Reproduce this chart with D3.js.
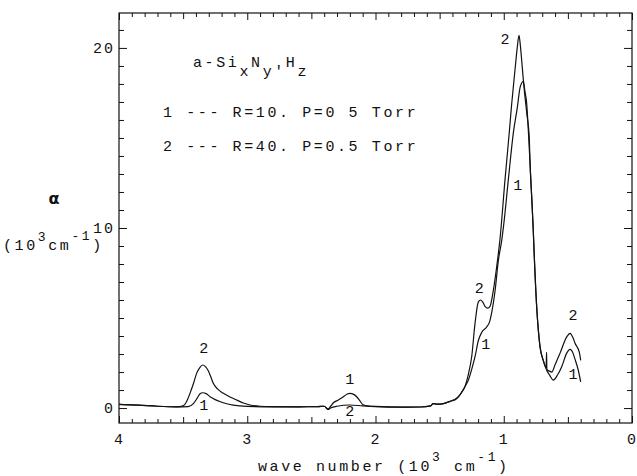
<!DOCTYPE html>
<html>
<head>
<meta charset="utf-8">
<script src="https://cdn.jsdelivr.net/npm/d3@7"></script>
<style>
  html, body { margin: 0; padding: 0; background: #fff; }
  svg { display: block; }
  .mono { font-family: "Liberation Mono", "DejaVu Sans Mono", monospace; font-size: 15px; letter-spacing: 2.6px; fill: #111; }
</style>
</head>
<body>
<svg id="chart" width="637" height="476"></svg>
<script>
// Absorption spectra of a-SixNyHz films (wave number in 10^3 cm^-1, alpha in 10^3 cm^-1)
const wn1 = [4.0, 3.85, 3.7, 3.55, 3.46, 3.42, 3.39, 3.37, 3.347, 3.32, 3.29, 3.25, 3.21, 3.16, 3.11, 3.0, 2.8, 2.6, 2.45, 2.40, 2.37, 2.35, 2.33, 2.29, 2.25, 2.22, 2.20, 2.17, 2.147, 2.12, 2.097, 2.05, 2.0, 1.8, 1.65, 1.57, 1.55, 1.52, 1.47, 1.42, 1.37, 1.34, 1.31, 1.276, 1.25, 1.224, 1.198, 1.172, 1.133, 1.11, 1.094, 1.068, 1.042, 1.016, 1.0, 0.964, 0.925, 0.894, 0.873, 0.86, 0.847, 0.835, 0.821, 0.809, 0.795, 0.782, 0.77, 0.764, 0.743, 0.73, 0.717, 0.692, 0.665, 0.64, 0.614, 0.58, 0.548, 0.509, 0.483, 0.46, 0.444, 0.419, 0.40];
const alpha1 = [0.20, 0.16, 0.10, 0.07, 0.08, 0.25, 0.55, 0.78, 0.85, 0.80, 0.63, 0.47, 0.35, 0.24, 0.16, 0.09, 0.07, 0.07, 0.08, 0.10, -0.05, 0.10, 0.28, 0.45, 0.63, 0.78, 0.82, 0.76, 0.63, 0.38, 0.18, 0.11, 0.09, 0.05, 0.06, 0.12, 0.25, 0.22, 0.25, 0.36, 0.50, 0.75, 1.1, 1.55, 2.15, 2.85, 3.75, 4.2, 4.5, 4.8, 5.3, 6.5, 8.2, 9.3, 10.2, 12.7, 15.3, 16.7, 17.8, 18.05, 18.15, 17.6, 16.9, 15.5, 13.6, 11.7, 9.9, 8.8, 5.6, 4.3, 3.4, 2.65, 2.1, 1.8, 1.55, 1.85, 2.3, 3.05, 3.26, 3.05, 2.7, 2.1, 1.45];

const wn2 = [4.0, 3.85, 3.7, 3.55, 3.50, 3.47, 3.446, 3.42, 3.394, 3.37, 3.347, 3.326, 3.306, 3.285, 3.267, 3.23, 3.189, 3.13, 3.08, 3.03, 2.98, 2.9, 2.8, 2.6, 2.45, 2.40, 2.37, 2.35, 2.30, 2.2, 2.1, 2.0, 1.8, 1.65, 1.57, 1.55, 1.52, 1.47, 1.42, 1.367, 1.33, 1.302, 1.275, 1.25, 1.224, 1.198, 1.18, 1.165, 1.146, 1.125, 1.107, 1.081, 1.055, 1.029, 0.99, 0.957, 0.938, 0.912, 0.895, 0.881, 0.87, 0.86, 0.847, 0.821, 0.801, 0.795, 0.782, 0.77, 0.764, 0.743, 0.73, 0.717, 0.692, 0.67, 0.666, 0.664, 0.645, 0.626, 0.60, 0.561, 0.509, 0.483, 0.46, 0.444, 0.411, 0.40];
const alpha2 = [0.20, 0.16, 0.10, 0.07, 0.12, 0.40, 0.83, 1.35, 1.94, 2.25, 2.39, 2.30, 2.10, 1.75, 1.40, 1.05, 0.83, 0.60, 0.44, 0.28, 0.17, 0.10, 0.08, 0.07, 0.08, 0.10, -0.08, 0.0, 0.10, 0.17, 0.12, 0.08, 0.05, 0.06, 0.12, 0.25, 0.22, 0.25, 0.38, 0.55, 0.85, 1.2, 1.9, 2.85, 4.7, 5.9, 6.0, 5.9, 5.65, 5.55, 5.65, 6.55, 7.85, 9.4, 12.7, 15.3, 16.9, 18.8, 20.0, 20.7, 20.1, 19.3, 18.2, 16.4, 15.0, 13.6, 11.7, 9.9, 8.8, 5.6, 4.3, 3.4, 2.65, 2.25, 3.1, 2.15, 2.05, 2.0, 2.4, 3.05, 3.95, 4.15, 3.9, 3.6, 3.1, 2.65];

const xTickLabels = [4, 3, 2, 1, 0];
const yTickLabels = [0, 10, 20];

// Curve number tags: [wave number, alpha, text]
const curveTags = [
  [3.34, 3.05, "2"], [3.34, -0.1, "1"],
  [2.20, 1.35, "1"], [2.20, -0.45, "2"],
  [1.19, 6.4, "2"], [1.14, 3.3, "1"],
  [0.99, 20.2, "2"], [0.89, 12.1, "1"],
  [0.46, 4.9, "2"], [0.46, 1.6, "1"]
];

const svg = d3.select("#chart");
const plot = { left: 119, right: 632, top: 13, bottom: 423 };

const x = d3.scaleLinear().domain([4, 0]).range([plot.left, plot.right]);
const y = d3.scaleLinear().domain([-0.83, 21.94]).range([plot.bottom, plot.top]);

const ink = "#111";

// frame
svg.append("rect")
  .attr("x", plot.left).attr("y", plot.top)
  .attr("width", plot.right - plot.left).attr("height", plot.bottom - plot.top)
  .attr("fill", "none").attr("stroke", ink).attr("stroke-width", 1.2);

// inward tick marks on all four sides
const xMinor = d3.range(0, 41).filter(i => i % 5 !== 0).map(i => i / 10);
const xHalf = [3.5, 2.5, 1.5, 0.5];
const yMinor = d3.range(0, 22).filter(v => v % 10 !== 0);

function addAxis(axis, tx, ty) {
  const g = svg.append("g")
    .attr("transform", `translate(${tx},${ty})`)
    .call(axis)
    .attr("color", ink);
  g.select(".domain").remove();
  return g;
}
const blank = () => "";

addAxis(d3.axisBottom(x).tickValues(xMinor).tickSize(-4).tickFormat(blank), 0, plot.bottom);
addAxis(d3.axisBottom(x).tickValues(xHalf).tickSize(-6).tickFormat(blank), 0, plot.bottom);
addAxis(d3.axisTop(x).tickValues(xMinor).tickSize(-4).tickFormat(blank), 0, plot.top);
addAxis(d3.axisTop(x).tickValues(xHalf).tickSize(-6).tickFormat(blank), 0, plot.top);
addAxis(d3.axisTop(x).tickValues(xTickLabels).tickSize(-7).tickFormat(blank), 0, plot.top);
addAxis(d3.axisLeft(y).tickValues(yMinor).tickSize(-5).tickFormat(blank), plot.left, 0);
addAxis(d3.axisRight(y).tickValues(yMinor).tickSize(-5).tickFormat(blank), plot.right, 0);
addAxis(d3.axisRight(y).tickValues(yTickLabels).tickSize(-8).tickFormat(blank), plot.right, 0);

// labelled axes
const xAxisG = addAxis(d3.axisBottom(x).tickValues(xTickLabels).tickSize(-7).tickPadding(10).tickFormat(d3.format("d")), 0, plot.bottom);
const yAxisG = addAxis(d3.axisLeft(y).tickValues(yTickLabels).tickSize(-8).tickPadding(4).tickFormat(d3.format("d")), plot.left, 0);
[xAxisG, yAxisG].forEach(g => g
  .attr("font-family", "Liberation Mono, DejaVu Sans Mono, monospace")
  .attr("font-size", 15)
  .attr("letter-spacing", "2px"));

// spectra
const line = d3.line().x(d => x(d[0])).y(d => y(d[1])).curve(d3.curveMonotoneX);
const series = [d3.zip(wn1, alpha1), d3.zip(wn2, alpha2)];
svg.append("g").selectAll("path").data(series).join("path")
  .attr("d", line)
  .attr("fill", "none")
  .attr("stroke", ink)
  .attr("stroke-width", 1.2)
  .attr("stroke-linejoin", "round");

// curve number tags
svg.append("g").selectAll("text").data(curveTags).join("text")
  .attr("class", "mono")
  .attr("x", d => x(d[0]))
  .attr("y", d => y(d[1]))
  .attr("text-anchor", "middle")
  .style("letter-spacing", "0px")
  .text(d => d[2]);

// legend block
const title = svg.append("text").attr("class", "mono").attr("x", 193).attr("y", 67);
title.append("tspan").text("a-Si");
title.append("tspan").attr("dy", 9).text("x");
title.append("tspan").attr("dy", -9).text("N");
title.append("tspan").attr("dy", 9).text("y'");
title.append("tspan").attr("dy", -9).text("H");
title.append("tspan").attr("dy", 9).text("z");

const legendLines = ["1 --- R=10. P=0 5 Torr", "2 --- R=40. P=0.5 Torr"];
svg.append("g").selectAll("text").data(legendLines).join("text")
  .attr("class", "mono")
  .attr("x", 163)
  .attr("y", (d, i) => 117 + i * 34)
  .text(d => d);

// axis titles
svg.append("text")
  .attr("x", 54).attr("y", 204)
  .attr("text-anchor", "middle")
  .attr("font-family", "DejaVu Sans, sans-serif")
  .attr("font-weight", "bold")
  .attr("font-size", 16)
  .attr("fill", ink)
  .text("α");

const yTitle = svg.append("text").attr("class", "mono").attr("x", 3).attr("y", 250);
yTitle.append("tspan").text("(10");
yTitle.append("tspan").attr("dy", -9).attr("font-size", 13).text("3");
yTitle.append("tspan").attr("dy", 9).text("cm");
yTitle.append("tspan").attr("dy", -10).attr("font-size", 13).text("-1");
yTitle.append("tspan").attr("dy", 10).text(")");

const xTitle = svg.append("text").attr("class", "mono").attr("x", 258).attr("y", 471);
xTitle.append("tspan").text("wave number (10");
xTitle.append("tspan").attr("dy", -10).attr("font-size", 13).text("3");
xTitle.append("tspan").attr("dy", 10).text(" cm");
xTitle.append("tspan").attr("dy", -10).attr("font-size", 13).text("-1");
xTitle.append("tspan").attr("dy", 10).text(")");
</script>
</body>
</html>
